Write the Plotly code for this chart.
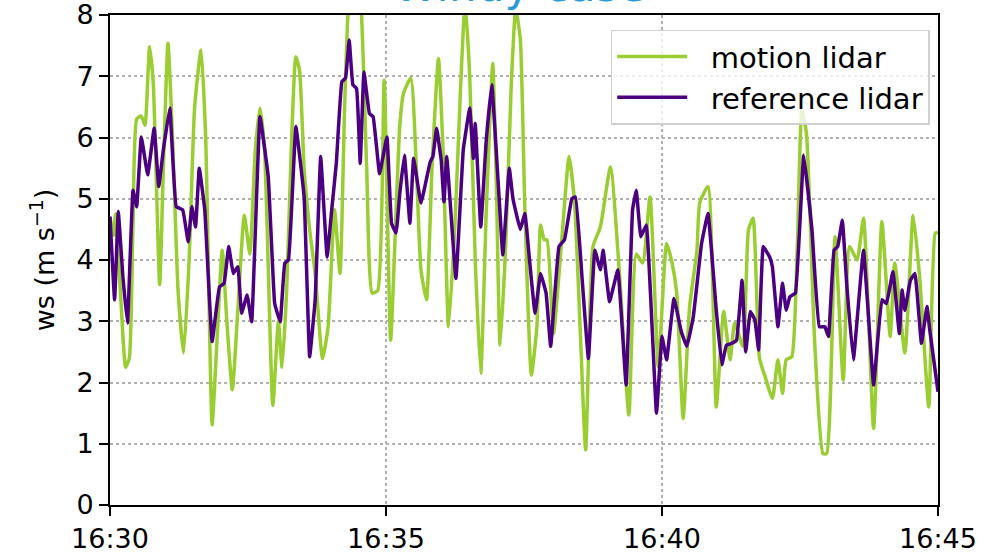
import pandas as pd
import plotly.graph_objects as go

# Wind speed series, 16:30-16:45 (seconds after 16:30, m/s)
ref_t = [0, 5, 9, 14, 19, 25, 29, 34, 41, 48, 53, 58, 65, 72, 79, 85, 89, 93, 97, 103,
         111, 119, 124, 129, 134, 139, 143, 149, 154, 163, 172, 179, 185, 190, 194, 202,
         211, 217, 223, 229, 236, 241, 246, 252, 256, 260, 264, 268, 272, 276, 282, 286,
         293, 301, 306, 311, 315, 320, 326, 330, 338, 348, 351, 355, 360, 363, 366, 376,
         384, 391, 395, 397, 403, 409, 415, 422, 427, 434, 438, 446, 451, 456, 462, 468,
         474, 479, 488, 494, 502, 506, 513, 520, 527, 533, 536, 543, 552, 561, 568, 572,
         577, 583, 594, 600, 605, 613, 621, 627, 634, 643, 650, 659, 665, 670, 676, 681,
         687, 691, 696, 701, 705, 710, 717, 720, 726, 731, 735, 739, 745, 754, 763, 771,
         777, 781, 787, 791, 796, 801, 808, 819, 830, 839, 844, 851, 858, 861, 864, 870,
         875, 882, 888, 891, 900]
ref_ws = [4.71, 3.35, 4.79, 3.73, 2.97, 5.14, 4.87, 6.01, 5.39, 6.15, 5.2, 5.8, 6.48, 4.87,
          4.82, 4.3, 4.87, 4.54, 5.5, 4.82, 2.67, 3.56, 3.62, 4.22, 3.78, 3.89, 3.13, 3.43,
          2.99, 6.34, 5.36, 3.29, 2.99, 3.95, 4.0, 6.18, 5.03, 2.42, 3.35, 5.69, 4.05, 4.82,
          5.58, 6.91, 6.97, 7.59, 6.86, 6.8, 5.58, 7.07, 6.39, 6.34, 5.41, 6.01, 4.6, 4.44,
          5.09, 5.71, 4.6, 5.66, 4.93, 5.6, 5.69, 6.15, 5.63, 4.95, 5.69, 3.7, 5.8, 6.48,
          5.66, 6.23, 4.54, 5.96, 6.86, 5.25, 4.08, 5.5, 5.0, 4.5, 4.76, 4.0, 3.13, 3.78,
          3.46, 2.59, 4.22, 4.33, 5.0, 5.03, 3.73, 2.39, 4.16, 3.84, 4.16, 3.32, 3.84, 1.96,
          4.82, 5.14, 4.38, 4.57, 1.5, 2.75, 2.37, 3.37, 2.83, 2.59, 3.07, 4.27, 4.76, 3.18,
          2.29, 2.61, 2.64, 2.69, 3.67, 2.5, 3.16, 3.02, 2.53, 4.22, 4.05, 3.89, 2.91, 3.62,
          3.18, 3.4, 3.46, 5.71, 4.49, 2.91, 2.91, 2.75, 4.16, 4.22, 4.65, 3.56, 2.37, 4.16,
          1.96, 3.35, 3.29, 3.81, 2.8, 3.51, 3.18, 3.67, 3.78, 2.64, 3.24, 2.86, 1.85]

mot_t = [0, 4, 6, 12, 17, 21, 25, 29, 34, 38, 43, 47, 54, 58, 63, 68, 74, 80, 86, 92, 99,
         104, 111, 116, 122, 127, 133, 139, 146, 152, 158, 163, 168, 177, 183, 187, 192,
         197, 202, 206, 211, 217, 223, 231, 237, 244, 250, 255, 259, 266, 273, 279, 285,
         291, 298, 305, 311, 315, 319, 327, 333, 338, 344, 350, 357, 362, 368, 375, 381,
         386, 391, 397, 403, 409, 416, 420, 424, 430, 436, 441, 446, 451, 458, 464, 468,
         472, 475, 482, 491, 499, 505, 511, 517, 525, 533, 544, 554, 564, 572, 579, 587,
         596, 605, 611, 616, 623, 630, 638, 641, 650, 659, 667, 674, 679, 688, 694, 699,
         706, 712, 720, 726, 731, 735, 741, 747, 752, 757, 766, 775, 779, 788, 797, 804,
         812, 819, 830, 839, 848, 853, 864, 873, 880, 890, 897, 900]
mot_ws = [4.7, 4.4, 4.75, 3.3, 2.25, 2.4, 4.6, 6.3, 6.35, 6.2, 7.48, 6.9, 3.6, 5.5, 7.54,
          6.0, 3.5, 2.48, 4.0, 6.5, 7.43, 6.0, 1.31, 2.6, 4.16, 3.0, 1.88, 3.2, 4.73, 4.1,
          5.8, 6.48, 5.8, 1.63, 3.0, 2.25, 3.5, 5.8, 7.32, 7.1, 5.5, 4.5, 3.78, 2.39, 2.9,
          4.82, 3.78, 6.5, 8.1, 9.0, 8.1, 5.5, 3.46, 3.5, 6.94, 2.69, 4.8, 6.2, 6.72, 6.97,
          5.5, 3.84, 3.35, 5.5, 7.29, 5.8, 2.91, 4.6, 6.8, 8.2, 7.0, 4.0, 2.15, 4.8, 7.21,
          5.2, 2.61, 4.2, 6.8, 8.1, 7.6, 4.8, 2.12, 2.91, 4.57, 4.33, 4.33, 2.8, 4.33, 5.69,
          4.93, 2.9, 0.9, 4.22, 4.54, 5.52, 3.73, 1.47, 4.1, 3.95, 5.03, 2.26, 4.27, 3.95,
          3.46, 1.41, 3.24, 4.16, 4.93, 5.2, 1.6, 3.16, 2.37, 2.97, 2.59, 4.49, 4.68, 2.39,
          2.1, 1.74, 2.37, 1.82, 2.37, 2.42, 4.2, 6.45, 6.07, 2.64, 0.84, 0.84, 4.38, 2.04,
          4.22, 4.0, 4.68, 1.25, 4.63, 2.75, 3.95, 2.48, 4.73, 3.73, 1.6, 4.44, 4.45]

start = pd.Timestamp("2021-01-01 16:30:00")
end = pd.Timestamp("2021-01-01 16:45:00")
ref_time = start + pd.to_timedelta(ref_t, unit="s")
mot_time = start + pd.to_timedelta(mot_t, unit="s")

FONT = "DejaVu Sans"
GREEN = "#9acd32"
PURPLE = "#4b0082"
PAD = "\u00a0\u00a0"  # keeps the legend text clear of the line samples

fig = go.Figure()
fig.add_trace(go.Scatter(x=mot_time, y=mot_ws, mode="lines", name=PAD + "motion lidar",
                         line=dict(color=GREEN, width=3.5, shape="spline", smoothing=0.5)))
fig.add_trace(go.Scatter(x=ref_time, y=ref_ws, mode="lines", name=PAD + "reference lidar",
                         line=dict(color=PURPLE, width=3.5, shape="spline", smoothing=0.25)))

axis_common = dict(
    showline=True, linecolor="black", linewidth=2, mirror=True,
    ticks="outside", ticklen=9, tickwidth=2, tickcolor="black",
    tickfont=dict(family=FONT, size=27, color="black"),
    showgrid=True, gridcolor="#b0b0b0", gridwidth=1.5, griddash="dot",
    zeroline=False, automargin=False, ticklabeloverflow="allow",
)

fig.update_xaxes(range=[start, end], tickformat="%H:%M", dtick=300000,
                 tick0=start, **axis_common)
fig.update_yaxes(range=[0, 8], dtick=1, tick0=0,
                 title=dict(text="ws (m s<sup>−1</sup>)",
                            font=dict(family=FONT, size=27, color="black"),
                            standoff=14),
                 **axis_common)

fig.add_annotation(text="Windy case", xref="paper", yref="paper", x=0.495, y=1.0,
                   xanchor="center", yanchor="bottom", yshift=2, showarrow=False,
                   font=dict(family=FONT, size=44, color="#2a9bd2"))

fig.update_layout(
    width=984, height=558,
    margin=dict(l=110, r=46, t=15, b=53),
    paper_bgcolor="white", plot_bgcolor="white",
    font=dict(family=FONT, color="black"),
    legend=dict(x=0.99, y=0.97, xanchor="right", yanchor="top",
                bgcolor="rgba(255,255,255,0.8)", bordercolor="#d0d0d0", borderwidth=1.5,
                font=dict(family=FONT, size=29, color="black"),
                itemwidth=70, tracegroupgap=0),
    showlegend=True,
)

fig.write_html("out.html")
